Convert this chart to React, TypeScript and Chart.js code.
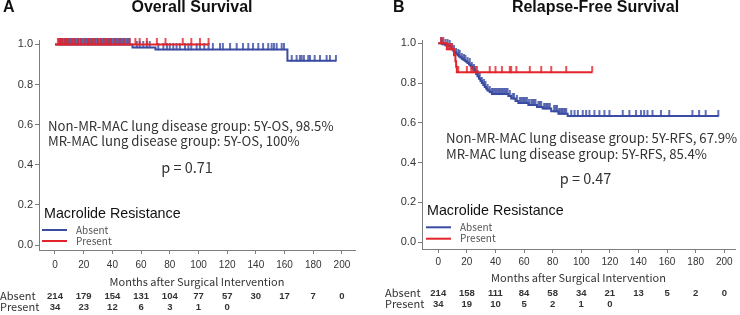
import React, { useEffect, useRef } from 'react';
import { Chart, registerables } from 'chart.js';

Chart.register(...registerables);

// ---------- data ----------
const xTicks = [0, 20, 40, 60, 80, 100, 120, 140, 160, 180, 200];
const yTicks = [0, 0.2, 0.4, 0.6, 0.8, 1.0];
const groupLabels = ['Absent', 'Present'];
const legendTitle = 'Macrolide Resistance';
const xAxisTitle = 'Months after Surgical Intervention';

// Panel A: Overall Survival
const osAbsentTimes = [54, 70, 162];
const osAbsentSurv = [0.985, 0.975, 0.918];
const osAbsentEnd = 196;
const osAbsentCensor = [3, 4, 5, 6, 7, 8, 9, 10, 11, 12, 13, 14, 15, 16, 17, 18, 19, 20, 21, 22, 23, 24, 25, 26, 27, 28, 29, 30, 31, 32, 33, 34, 35, 36, 37, 38, 39, 40, 41, 42, 43, 44, 45, 46, 47, 48, 49, 50, 51, 52, 57, 59, 61.5, 64, 66, 72, 75.5, 78, 80, 82.4, 84.7, 87, 90.6, 93, 95, 98.7, 101, 104, 107, 110, 115, 117, 122, 126.6, 131, 134.7, 138, 141.7, 145, 148.6, 151, 152.6, 154.5, 158, 159.6, 165, 168.4, 170.7, 171.9, 173.5, 176.5, 177.7, 181, 184.7, 189.3, 191.6, 195.8];
const osPresentTimes: number[] = [];
const osPresentSurv: number[] = [];
const osPresentEnd = 107;
const osPresentCensor = [2, 3, 4, 5, 7, 8, 10, 12, 14, 16, 18, 21, 23, 24, 26, 28, 30, 32, 34, 36, 38, 39, 42, 45, 48, 52, 56, 59, 64, 71, 77, 89, 95, 101, 107];
const osRiskAbsent = [214, 179, 154, 131, 104, 77, 57, 30, 17, 7, 0];
const osRiskPresent = [34, 23, 12, 6, 3, 1, 0];
const osNotes = ['Non-MR-MAC lung disease group: 5Y-OS, 98.5%', 'MR-MAC lung disease group: 5Y-OS, 100%'];
const osP = 'p = 0.71';

// Panel B: Relapse-Free Survival
const rfsAbsentTimes = [3, 5, 7, 8.5, 9.5, 10.5, 11.5, 12.5, 13.5, 14.5, 15.5, 16.5, 17.5, 18.5, 19.5, 20.5, 21.5, 22.5, 23.5, 24.5, 25.5, 26.5, 27.5, 28.5, 29.5, 30.5, 31.5, 32.5, 33.5, 34.5, 36, 37.5, 49, 51, 54, 56, 63, 69, 73, 79, 84, 90.5];
const rfsAbsentSurv = [0.995, 0.99, 0.985, 0.978, 0.97, 0.962, 0.955, 0.948, 0.94, 0.934, 0.928, 0.922, 0.917, 0.912, 0.907, 0.901, 0.894, 0.887, 0.877, 0.867, 0.857, 0.846, 0.834, 0.822, 0.811, 0.8, 0.79, 0.78, 0.771, 0.763, 0.755, 0.745, 0.735, 0.722, 0.71, 0.7, 0.69, 0.68, 0.672, 0.658, 0.646, 0.634];
const rfsAbsentEnd = 196;
const rfsAbsentCensor = [2, 3, 5, 6.5, 8, 9.5, 11, 12.5, 14, 15, 16.5, 18, 19, 20.5, 22, 23.5, 25, 26, 27.5, 29, 30.5, 32, 33, 34.5, 36, 37.5, 38.5, 39.5, 40.5, 41.5, 42.5, 43.5, 44.5, 45.5, 46.5, 47.5, 48.5, 50, 52, 53, 55, 57, 58, 59, 60, 61, 62, 63.5, 65, 66, 67, 68, 70, 71, 72, 74, 75, 76, 77, 78, 81, 82, 83, 84.5, 85.5, 86.5, 87.5, 88.5, 89.5, 93, 95.3, 97.6, 101, 103.4, 105.7, 109.2, 112.7, 116.2, 119.7, 129, 133.6, 138.3, 141.7, 144, 146.3, 149.8, 155.7, 161.5, 177.7, 182.4, 187, 195.8];
const rfsPresentTimes = [6, 11, 12, 12.5, 13];
const rfsPresentSurv = [0.97, 0.94, 0.91, 0.882, 0.854];
const rfsPresentEnd = 107.6;
const rfsPresentCensor = [2, 3.5, 7, 8.5, 9.5, 14, 20, 23, 24.5, 27, 36, 40, 44.5, 50, 51, 54.6, 64, 72, 79, 89.5, 107.6];
const rfsRiskAbsent = [214, 158, 111, 84, 58, 34, 21, 13, 5, 2, 0];
const rfsRiskPresent = [34, 19, 10, 5, 2, 1, 0];
const rfsNotes = ['Non-MR-MAC lung disease group: 5Y-RFS, 67.9%', 'MR-MAC lung disease group: 5Y-RFS, 85.4%'];
const rfsP = 'p = 0.47';

// ---------- styles ----------
const BLUE = '#3a4ca2';
const RED = '#e3252b';
const AXIS = '#7d7d7d';
const TEXT = '#333333';
const SANS = '"Liberation Sans", Arial, sans-serif';
const JP = '"Noto Sans CJK JP", "Noto Sans", sans-serif';

function survAt(times: number[], surv: number[], t: number) {
  let s = 1;
  for (let i = 0; i < times.length; i++) if (times[i] <= t) s = surv[i];
  return s;
}

function curve(times: number[], surv: number[], end: number) {
  const pts = [{ x: 0, y: 1 }];
  times.forEach((t, i) => pts.push({ x: t, y: surv[i] }));
  pts.push({ x: end, y: surv.length ? surv[surv.length - 1] : 1 });
  return pts;
}

function censorMark(color: string) {
  const c = document.createElement('canvas');
  c.width = 4;
  c.height = 12;
  const g = c.getContext('2d')!;
  g.strokeStyle = color;
  g.lineWidth = 1.6;
  g.beginPath();
  g.moveTo(2, 0);
  g.lineTo(2, 6.5);
  g.stroke();
  return c;
}

type Cfg = {
  letter: string; letterX: number; title: string; titleX: number;
  absT: number[]; absS: number[]; absEnd: number; absC: number[];
  preT: number[]; preS: number[]; preEnd: number; preC: number[];
  riskAbs: number[]; riskPre: number[]; notes: string[]; p: string;
  yAxisX: number; xBottom: number; padRight: number; padTop: number;
  xMin: number; xMax: number; yMin: number; yMax: number;
  tickPad: number; titlePad: number;
  noteX: number; noteY: number; noteGap: number; pX: number; pY: number;
  legX: number; legY: number; legLineX: number; legLineY: number; legGap: number; legTextX: number;
  rowX: number; rowY: number; rowGap: number; whiteBox?: number[];
};

const cfgA: Cfg = {
  letter: 'A', letterX: 3, title: 'Overall Survival', titleX: 192,
  absT: osAbsentTimes, absS: osAbsentSurv, absEnd: osAbsentEnd, absC: osAbsentCensor,
  preT: osPresentTimes, preS: osPresentSurv, preEnd: osPresentEnd, preC: osPresentCensor,
  riskAbs: osRiskAbsent, riskPre: osRiskPresent, notes: osNotes, p: osP,
  yAxisX: 39, xBottom: 250, padRight: 15, padTop: 40,
  xMin: -11.15, xMax: 209.1, yMin: -0.0249, yMax: 1.022,
  tickPad: 5, titlePad: 26.4,
  noteX: 48, noteY: 126, noteGap: 15.3, pX: 187, pY: 167,
  legX: 44, legY: 214, legLineX: 42, legLineY: 230, legGap: 11, legTextX: 76,
  rowX: 0, rowY: 296, rowGap: 11, whiteBox: [40, 220, 75, 28],
};

const cfgB: Cfg = {
  letter: 'B', letterX: 23, title: 'Relapse-Free Survival', titleX: 225.5,
  absT: rfsAbsentTimes, absS: rfsAbsentSurv, absEnd: rfsAbsentEnd, absC: rfsAbsentCensor,
  preT: rfsPresentTimes, preS: rfsPresentSurv, preEnd: rfsPresentEnd, preC: rfsPresentCensor,
  riskAbs: rfsRiskAbsent, riskPre: rfsRiskPresent, notes: rfsNotes, p: rfsP,
  yAxisX: 52, xBottom: 249, padRight: 4, padTop: 40,
  xMin: -11.36, xMax: 207.5, yMin: -0.0342, yMax: 1.0166,
  tickPad: 3, titlePad: 30.7,
  noteX: 76, noteY: 137.5, noteGap: 16.5, pX: 215.5, pY: 178,
  legX: 57, legY: 211, legLineX: 56, legLineY: 227.3, legGap: 11.4, legTextX: 90,
  rowX: 15, rowY: 293.3, rowGap: 11,
};

function Panel({ cfg, left }: { cfg: Cfg; left: number }) {
  const ref = useRef<HTMLCanvasElement>(null);
  useEffect(() => {
    const textPlugin = {
      id: 'texts',
      afterDraw(chart: any) {
        const ctx = chart.ctx as CanvasRenderingContext2D;
        const xs = chart.scales.x;
        ctx.save();
        ctx.textBaseline = 'middle';
        ctx.fillStyle = '#111';
        ctx.font = `bold 16px ${SANS}`;
        ctx.textAlign = 'left';
        ctx.fillText(cfg.letter, cfg.letterX, 8);
        ctx.textAlign = 'center';
        ctx.fillText(cfg.title, cfg.titleX, 8);
        ctx.fillStyle = TEXT;
        ctx.font = `13.2px ${JP}`;
        ctx.textAlign = 'left';
        cfg.notes.forEach((n, i) => ctx.fillText(n, cfg.noteX, cfg.noteY + i * cfg.noteGap));
        ctx.font = `14.5px ${JP}`;
        ctx.textAlign = 'center';
        ctx.fillText(cfg.p, cfg.pX, cfg.pY);
        if (cfg.whiteBox) {
          ctx.fillStyle = '#fff';
          const [bx, by, bw, bh] = cfg.whiteBox;
          ctx.fillRect(bx, by, bw, bh);
        }
        ctx.fillStyle = '#111';
        ctx.font = `14.3px ${SANS}`;
        ctx.textAlign = 'left';
        ctx.fillText(legendTitle, cfg.legX, cfg.legY);
        [BLUE, RED].forEach((col, i) => {
          const y = cfg.legLineY + i * cfg.legGap;
          ctx.strokeStyle = col;
          ctx.lineWidth = 2;
          ctx.beginPath();
          ctx.moveTo(cfg.legLineX, y);
          ctx.lineTo(cfg.legLineX + 25, y);
          ctx.stroke();
          ctx.fillStyle = '#555';
          ctx.font = `10px ${JP}`;
          ctx.fillText(groupLabels[i], cfg.legTextX, y);
        });
        // risk table
        ctx.fillStyle = TEXT;
        [cfg.riskAbs, cfg.riskPre].forEach((row, r) => {
          const y = cfg.rowY + r * cfg.rowGap;
          ctx.textAlign = 'left';
          ctx.font = `11px ${JP}`;
          ctx.fillText(groupLabels[r], cfg.rowX, y);
          ctx.textAlign = 'center';
          ctx.font = `bold 9.5px ${SANS}`;
          row.forEach((v, i) => ctx.fillText(String(v), xs.getPixelForValue(xTicks[i]), y));
        });
        ctx.restore();
      },
    };

    const blueMark = censorMark(BLUE);
    const redMark = censorMark(RED);
    const censorData = (times: number[], surv: number[], c: number[]) => c.map((t) => ({ x: t, y: survAt(times, surv, t) }));

    const chart = new Chart(ref.current!, {
      type: 'line',
      data: {
        datasets: [
          { label: 'Absent', data: curve(cfg.absT, cfg.absS, cfg.absEnd), borderColor: BLUE, borderWidth: 2, stepped: true, pointRadius: 0, order: 3, clip: false } as any,
          { label: 'Absent censored', data: censorData(cfg.absT, cfg.absS, cfg.absC), showLine: false, pointStyle: blueMark, pointRadius: 3, order: 2, clip: false } as any,
          { label: 'Present', data: curve(cfg.preT, cfg.preS, cfg.preEnd), borderColor: RED, borderWidth: 2, stepped: true, pointRadius: 0, order: 1, clip: false } as any,
          { label: 'Present censored', data: censorData(cfg.preT, cfg.preS, cfg.preC), showLine: false, pointStyle: redMark, pointRadius: 3, order: 0, clip: false } as any,
        ],
      },
      options: {
        animation: false,
        responsive: false,
        devicePixelRatio: 1,
        events: [],
        layout: { padding: { left: 0, right: cfg.padRight, top: cfg.padTop, bottom: 0 } },
        plugins: { legend: { display: false }, tooltip: { enabled: false }, title: { display: false } },
        scales: {
          x: {
            type: 'linear',
            min: cfg.xMin,
            max: cfg.xMax,
            afterBuildTicks: (s: any) => { s.ticks = xTicks.map((v) => ({ value: v })); },
            afterFit: (s: any) => { s.height = 315 - cfg.xBottom; },
            ticks: { color: TEXT, font: { family: SANS, size: 10 }, padding: cfg.tickPad, maxRotation: 0, autoSkip: false, callback: (v: any) => String(v) },
            grid: { drawOnChartArea: false, drawTicks: true, tickLength: 4, color: AXIS },
            border: { display: true, color: AXIS, width: 1 },
            title: { display: true, text: xAxisTitle, color: TEXT, font: { family: JP, size: 11 }, padding: { top: 0, bottom: cfg.titlePad } },
          },
          y: {
            type: 'linear',
            min: cfg.yMin,
            max: cfg.yMax,
            afterBuildTicks: (s: any) => { s.ticks = yTicks.map((v) => ({ value: v })); },
            afterFit: (s: any) => { s.width = cfg.yAxisX; },
            ticks: { color: TEXT, font: { family: SANS, size: 11 }, padding: 2, autoSkip: false, callback: (v: any) => Number(v).toFixed(1) },
            grid: { drawOnChartArea: false, drawTicks: true, tickLength: 4, color: AXIS },
            border: { display: true, color: AXIS, width: 1 },
          },
        },
      } as any,
      plugins: [textPlugin],
    });
    return () => chart.destroy();
  }, [cfg]);
  return <canvas ref={ref} width={370} height={315} style={{ position: 'absolute', left, top: 0, width: 370, height: 315 }} />;
}

export default function App() {
  return (
    <div style={{ position: 'fixed', left: 0, top: 0, width: 740, height: 315, background: '#fff', overflow: 'hidden' }}>
      <Panel cfg={cfgA} left={0} />
      <Panel cfg={cfgB} left={370} />
    </div>
  );
}
